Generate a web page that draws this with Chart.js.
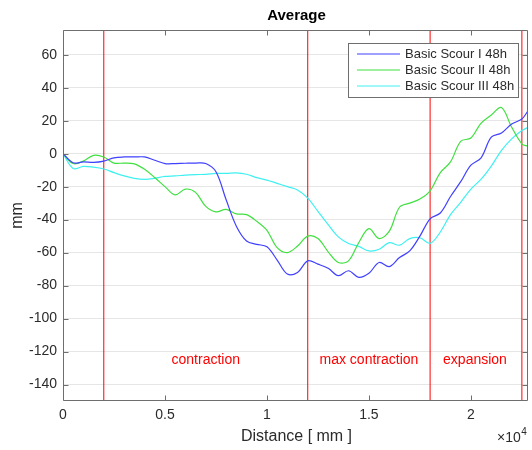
<!DOCTYPE html>
<html>
<head>
<meta charset="utf-8">
<title>Average</title>
<script src="https://cdn.jsdelivr.net/npm/chart.js@4.4.0/dist/chart.umd.min.js"></script>
<style>
    html, body { margin: 0; padding: 0; background: #fff; }
    #wrap { width: 532px; height: 450px; }
</style>
</head>
<body>
<div id="wrap"><canvas id="avg-chart" width="532" height="450"></canvas></div>
<script>
    "use strict";

    // Data (distance in mm, scour depth in mm)
    var distance = [0, 500, 1000, 1500, 2000, 2500, 3000, 3500, 4000, 4500,
        5000, 5500, 6000, 6500, 7000, 7500, 8000, 8500, 9000, 9500,
        10000, 10500, 11000, 11500, 12000, 12500, 13000, 13500, 14000, 14500,
        15000, 15500, 16000, 16500, 17000, 17500, 18000, 18500, 19000, 19500,
        20000, 20500, 21000, 21500, 22000, 22500, 22800];

    var scourI = [0, -5.5, -5, -5.3, -4.5, -2.5, -2, -2, -2, -4,
        -6, -6, -5.8, -5.7, -6, -11, -28, -44, -53, -55,
        -56.5, -64.5, -73, -72, -65, -67, -69.5, -74, -71, -75,
        -72.5, -66, -68.5, -63, -59, -50, -39.5, -36, -26, -17,
        -7, -2.5, 10, 12.5, 18, 21, 26];

    var scourII = [0, -6, -4.5, -1, -2, -5.7, -5.7, -6.2, -9.5, -14.5,
        -20, -25, -21.5, -23.5, -32, -35.3, -33.8, -36.5, -37, -41,
        -46.5, -57, -60, -56, -50, -51.5, -59.5, -66, -65, -54,
        -45.5, -51.5, -47, -32.5, -30, -27.5, -22.5, -11.5, -5, 7.5,
        9.5, 18.5, 23.5, 28, 16, 6, 4.5];

    var scourIII = [0, -9, -7.7, -8.2, -9.3, -11.5, -13.5, -15, -15.6, -15,
        -13.8, -13.5, -13, -12.7, -12.5, -12, -12, -11.7, -12.5, -14.5,
        -16, -18, -20, -22, -27, -35, -43, -50.5, -54.5, -56.2,
        -59, -58, -54, -55.5, -51.5, -51, -54.4, -47.5, -37, -29.5,
        -21.5, -15.5, -7.5, 2, 9, 14, 16];

    var seriesNames = ["Basic Scour I 48h", "Basic Scour II 48h", "Basic Scour III 48h"];
    var boundaries = [2000, 12000, 18000, 22500];
    var regionNames = ["contraction", "max contraction", "expansion"];
    var regionX = [7000, 15000, 20200];
    var regionY = -125;
    var xTicks = [0, 5000, 10000, 15000, 20000];
    var yTicks = [-140, -120, -100, -80, -60, -40, -20, 0, 20, 40, 60];
    var xMin = 0, xMax = 22800, yMin = -150, yMax = 75;

    var FONT = "'Liberation Sans', Arial, Helvetica, sans-serif";
    var AXIS_COLOR = "#6e6e6e";
    var TEXT_COLOR = "#2b2b2b";
    var seriesColors = ["#4040ff", "#40e040", "#40f0f0"];

    function toPoints(ys) {
        return distance.map(function (d, i) { return {x: d, y: ys[i]}; });
    }

    // Datasets: three scour curves + red section boundaries
    var datasets = [scourI, scourII, scourIII].map(function (ys, i) {
        return {
            label: seriesNames[i],
            data: toPoints(ys),
            borderColor: seriesColors[i],
            borderWidth: 1.2,
            pointRadius: 0,
            tension: 0.35,
            fill: false
        };
    });
    boundaries.forEach(function (b) {
        datasets.push({
            label: "",
            data: [{x: b, y: yMin}, {x: b, y: yMax}],
            borderColor: "#ff0000",
            borderWidth: 1,
            pointRadius: 0,
            fill: false
        });
    });

    // MATLAB style frame, labels and legend
    var matlabAxes = {
        id: "matlabAxes",
        afterDatasetsDraw: function (chart) {
            var ctx = chart.ctx, a = chart.chartArea;
            var xs = chart.scales.x, ys = chart.scales.y;
            var L = Math.floor(a.left) + 0.5, R = Math.floor(a.right) - 0.5;
            var T = Math.floor(a.top) + 0.5, B = Math.floor(a.bottom) - 0.5;
            ctx.save();

            // region labels
            ctx.fillStyle = "#ff0000";
            ctx.font = "14px " + FONT;
            ctx.textAlign = "center";
            ctx.textBaseline = "middle";
            regionNames.forEach(function (n, i) {
                ctx.fillText(n, xs.getPixelForValue(regionX[i]), ys.getPixelForValue(regionY));
            });

            // box + inward ticks
            ctx.strokeStyle = AXIS_COLOR;
            ctx.lineWidth = 1;
            ctx.beginPath();
            ctx.rect(L, T, R - L, B - T);
            xTicks.forEach(function (v) {
                var px = Math.round(xs.getPixelForValue(v)) + 0.5;
                ctx.moveTo(px, B); ctx.lineTo(px, B - 5);
                ctx.moveTo(px, T); ctx.lineTo(px, T + 5);
            });
            yTicks.forEach(function (v) {
                var py = Math.round(ys.getPixelForValue(v)) + 0.5;
                ctx.moveTo(L, py); ctx.lineTo(L + 5, py);
                ctx.moveTo(R, py); ctx.lineTo(R - 5, py);
            });
            ctx.stroke();

            // title
            var cx = (a.left + a.right) / 2;
            ctx.fillStyle = "#000";
            ctx.font = "bold 15px " + FONT;
            ctx.textAlign = "center";
            ctx.textBaseline = "alphabetic";
            ctx.fillText("Average", cx + 1, 20);

            // axis labels
            ctx.fillStyle = TEXT_COLOR;
            ctx.font = "16px " + FONT;
            ctx.fillText("Distance [ mm ]", cx + 1, 441);
            ctx.save();
            ctx.translate(22, (a.top + a.bottom) / 2);
            ctx.rotate(-Math.PI / 2);
            ctx.fillText("mm", 0, 0);
            ctx.restore();

            // exponent
            ctx.textAlign = "left";
            ctx.font = "14px " + FONT;
            ctx.fillText("\u00d710", 497, 442);
            var w = ctx.measureText("\u00d710").width;
            ctx.font = "10px " + FONT;
            ctx.fillText("4", 497 + w + 0.5, 435);

            // legend
            var lx = a.right - 180, ly = a.top + 13, lw = 170, lh = 54;
            ctx.fillStyle = "#fff";
            ctx.fillRect(lx, ly, lw, lh);
            ctx.strokeStyle = AXIS_COLOR;
            ctx.strokeRect(lx + 0.5, ly + 0.5, lw, lh);
            ctx.font = "13px " + FONT;
            ctx.textBaseline = "middle";
            seriesNames.forEach(function (n, i) {
                var yy = ly + 11 + i * 16;
                ctx.strokeStyle = seriesColors[i];
                ctx.lineWidth = 1.2;
                ctx.beginPath();
                ctx.moveTo(lx + 9, yy); ctx.lineTo(lx + 52, yy);
                ctx.stroke();
                ctx.fillStyle = TEXT_COLOR;
                ctx.fillText(n, lx + 57, yy);
            });
            ctx.restore();
        }
    };

    // Average Chart
    var ctx1 = document.getElementById("avg-chart").getContext("2d");
    var myChart1 = new Chart(ctx1, {
        type: "line",
        data: {datasets: datasets},
        plugins: [matlabAxes],
        options: {
            responsive: false,
            animation: false,
            devicePixelRatio: 1,
            layout: {padding: {left: 0, top: 30, right: 4, bottom: 0}},
            plugins: {
                legend: {display: false},
                title: {display: false},
                tooltip: {enabled: false}
            },
            scales: {
                x: {
                    type: "linear",
                    min: xMin,
                    max: xMax,
                    afterBuildTicks: function (scale) {
                        scale.ticks = xTicks.map(function (v) { return {value: v}; });
                    },
                    afterFit: function (scale) { scale.height = 49; },
                    grid: {display: false, drawTicks: false},
                    border: {display: false},
                    ticks: {
                        color: TEXT_COLOR,
                        font: {family: FONT, size: 14},
                        padding: 6,
                        maxRotation: 0,
                        callback: function (v) { return String(v / 10000); }
                    }
                },
                y: {
                    type: "linear",
                    min: yMin,
                    max: yMax,
                    afterBuildTicks: function (scale) {
                        scale.ticks = yTicks.map(function (v) { return {value: v}; });
                    },
                    afterFit: function (scale) { scale.width = 63; },
                    grid: {color: "#e6e6e6", lineWidth: 1, drawTicks: false},
                    border: {display: false},
                    ticks: {
                        color: TEXT_COLOR,
                        font: {family: FONT, size: 14},
                        padding: 6
                    }
                }
            }
        }
    });
</script>
</body>
</html>
